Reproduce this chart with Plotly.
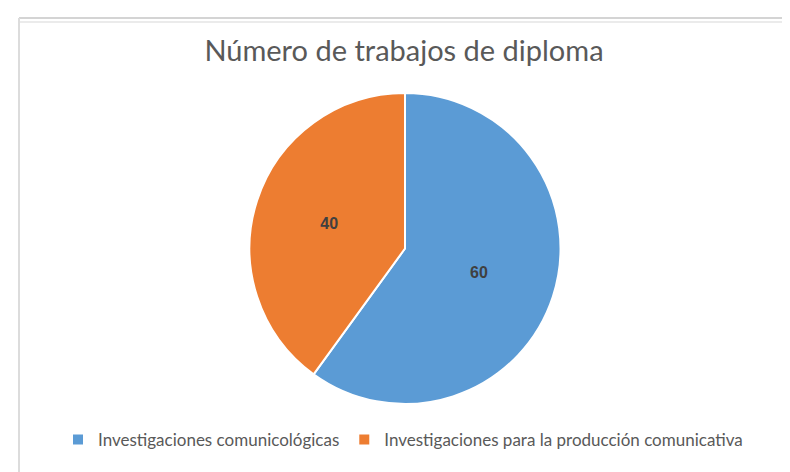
import plotly.graph_objects as go

categories = ["Investigaciones comunicológicas", "Investigaciones para la producción comunicativa"]
values = [60, 40]
colors = ["#5B9BD5", "#ED7D31"]

W, H = 790, 472
fig = go.Figure()
fig.add_trace(go.Pie(
    labels=categories,
    values=values,
    marker=dict(colors=colors, line=dict(color="white", width=2)),
    sort=False,
    direction="clockwise",
    rotation=0,
    textinfo="value",
    textposition="inside",
    insidetextorientation="horizontal",
    textfont=dict(family="Liberation Sans", size=16, color="#404040", weight="bold"),
    domain=dict(x=[241 / W, 553 / W], y=[(H - 396) / H, (H - 85) / H]),
    hoverinfo="label+value",
))

fig.update_layout(
    width=W, height=H,
    margin=dict(l=0, r=0, t=0, b=0),
    paper_bgcolor="white",
    title=dict(text="Número de trabajos de diploma", x=396 / W, xanchor="center",
               y=1 - 43 / H, yanchor="middle",
               font=dict(family="Lato", size=29, color="#595959")),
    showlegend=True,
    legend=dict(orientation="h", x=0.5, xanchor="center", y=1 - 432 / H, yanchor="middle",
                font=dict(family="Lato", size=17, color="#595959"),
                itemwidth=30, traceorder="normal"),
    shapes=[
        dict(type="line", xref="paper", yref="paper", x0=11 / W, x1=1, y0=1 - 10 / H, y1=1 - 10 / H,
             line=dict(color="#d4d4d4", width=2)),
        dict(type="line", xref="paper", yref="paper", x0=11 / W, x1=1, y0=1 - 14 / H, y1=1 - 14 / H,
             line=dict(color="#e4e4e4", width=1.5)),
        dict(type="line", xref="paper", yref="paper", x0=11 / W, x1=11 / W, y0=0, y1=1 - 10 / H,
             line=dict(color="#dcdcdc", width=2)),
    ],
)

fig.write_html("out.html")
